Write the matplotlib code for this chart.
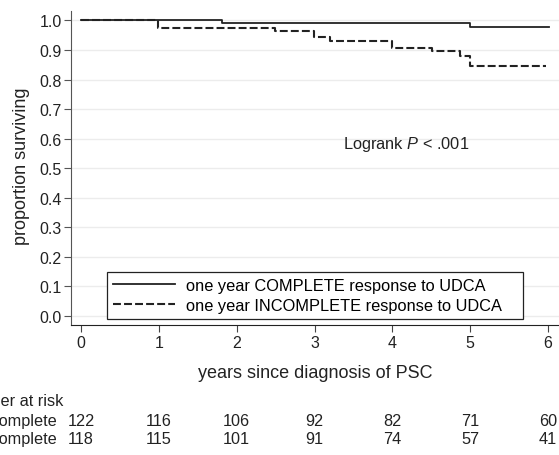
import numpy as np
import matplotlib
matplotlib.use("Agg")
import matplotlib.pyplot as plt
import matplotlib.transforms as mtransforms

plt.rcParams['font.family'] = ['Liberation Sans', 'DejaVu Sans']
plt.rcParams['mathtext.fontset'] = 'custom'
plt.rcParams['mathtext.rm'] = 'Liberation Sans'
plt.rcParams['mathtext.it'] = 'Liberation Sans:italic'

# Kaplan-Meier step data
complete_t = [0, 1.81, 5.0, 6.01]
complete_s = [1.0, 0.992, 0.977, 0.977]
incomplete_t = [0, 0.99, 2.49, 2.99, 3.2, 3.99, 4.51, 4.87, 5.0, 5.97]
incomplete_s = [1.0, 0.974, 0.965, 0.943, 0.932, 0.906, 0.895, 0.881, 0.847, 0.847]

years = [0, 1, 2, 3, 4, 5, 6]
at_risk_complete = [122, 116, 106, 92, 82, 71, 60]
at_risk_incomplete = [118, 115, 101, 91, 74, 57, 41]

W, H = 559, 456
fig = plt.figure(figsize=(W / 100, H / 100), dpi=100)
ax = fig.add_axes([71 / W, (H - 326) / H, (W - 71) / W, 314 / H])

ax.step(complete_t, complete_s, where='post', color='#222222', lw=1.3,
        label='one year COMPLETE response to UDCA')
ax.step(incomplete_t, incomplete_s, where='post', color='#222222', lw=1.5,
        dashes=(3.8, 1.5), label='one year INCOMPLETE response to UDCA')

ax.set_xlim(-0.128, 6.14)
ax.set_ylim(-0.031, 1.032)
ax.set_xticks(years)
ax.set_yticks(np.arange(0, 1.01, 0.1))
ax.set_yticklabels(['%.1f' % v for v in np.arange(0, 1.01, 0.1)])
ax.grid(axis='y', color='#ececec', lw=1)
ax.set_axisbelow(True)
for s in ['top', 'right']:
    ax.spines[s].set_visible(False)
ax.spines['left'].set_color('#555555')
ax.spines['bottom'].set_color('#222222')
ax.tick_params(axis='y', length=5, width=0.8, color='#555555', pad=1.5, labelsize=11.5, labelcolor='#222222')
ax.tick_params(axis='x', length=5, width=0.8, color='#444444', pad=2, labelsize=11.5, labelcolor='#222222')

fig.text(22 / W, 1 - 166 / H, 'proportion surviving', rotation=90, ha='center', va='center',
         fontsize=13, color='#222222')
fig.text(315 / W, 1 - 373 / H, 'years since diagnosis of PSC', ha='center', va='center',
         fontsize=13, color='#222222')

ax.text(3.37, 0.582, r'Logrank $\it{P}$ < .001', ha='left', va='center',
        fontsize=11.8, color='#222222')

leg = ax.legend(loc='lower left',
                bbox_to_anchor=((106.7 - 71) / 488, (326 - 320) / 314, (522.7 - 106.7) / 488, 0.1),
                mode='expand', frameon=True, fancybox=False, fontsize=11.8, handlelength=3.8,
                borderpad=0.38, labelspacing=0.3, handletextpad=0.67, borderaxespad=0)
leg.get_frame().set_edgecolor('#222222')
leg.get_frame().set_linewidth(0.9)
leg.get_frame().set_alpha(1)

# number at risk table
trans = mtransforms.blended_transform_factory(ax.transData, fig.transFigure)
fig.text(-43 / W, 1 - 402 / H, 'Number at risk', ha='left', va='center', fontsize=11.7, color='#222222')
fig.text(57 / W, 1 - 421.5 / H, 'Complete', ha='right', va='center', fontsize=11.7, color='#222222')
fig.text(57 / W, 1 - 440 / H, 'Incomplete', ha='right', va='center', fontsize=11.7, color='#222222')
for x, a, b in zip(years, at_risk_complete, at_risk_incomplete):
    ax.text(x, 1 - 421.5 / H, str(a), transform=trans, ha='center', va='center',
            fontsize=11.7, color='#222222', clip_on=False)
    ax.text(x, 1 - 440 / H, str(b), transform=trans, ha='center', va='center',
            fontsize=11.7, color='#222222', clip_on=False)

fig.savefig('out.png', dpi=100)
